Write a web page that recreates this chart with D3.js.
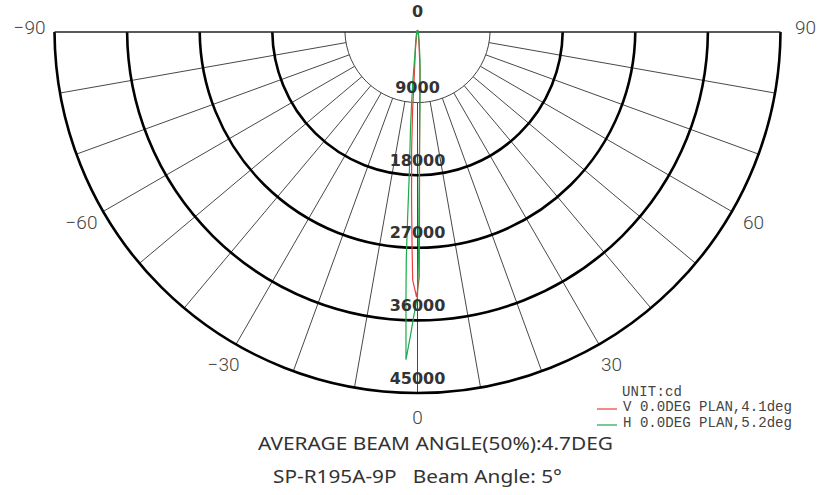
<!DOCTYPE html>
<html>
<head>
<meta charset="utf-8">
<script src="https://cdn.jsdelivr.net/npm/d3@7"></script>
<style>
	body { margin: 0; background: white; }
	svg { display: block; }
</style>
</head>
<body>
<div id="root"></div>
<script>
	//ring values (cd) and angle grid (deg)
	const ringValues = [9000, 18000, 27000, 36000, 45000];
	const spokeAngles = [-80, -70, -60, -50, -40, -30, -20, -10, 0, 10, 20, 30, 40, 50, 60, 70, 80];
	const angleLabels = [-90, -60, -30, 0, 30, 60, 90];

	//V plane (red), angle in degrees and intensity in cd
	const vAngles = [-90, -20, -10, -6, -4, -3.5, -2.8, -2, -1.4, -1.1, -0.2, 0.4, 0.6, 0.9, 1.6, 3.6, 6, 10, 20, 90];
	const vValues = [0, 150, 600, 2500, 5800, 9900, 14900, 21100, 27300, 31000, 33100, 30700, 23500, 16100, 9900, 5000, 1800, 700, 150, 0];

	//H plane (green)
	const hAngles = [-90, -20, -10, -6, -5.3, -4.7, -4.1, -3.3, -3.0, -2.8, -2.45, -2.2, -2.0, -1.3, -0.7, 0, 0.3, 0.5, 0.95, 2.05, 4.8, 8.5, 20, 90];
	const hValues = [0, 300, 1200, 3000, 6000, 8700, 12100, 17400, 23600, 28500, 33500, 37200, 40900, 37800, 35300, 33100, 27300, 21100, 14900, 8700, 3700, 1300, 300, 0];

	const legendNames = ["V 0.0DEG PLAN,4.1deg", "H 0.0DEG PLAN,5.2deg"];
	const legendColors = ["#f03a3a", "#1aab4a"];

	//dimensions of svg canvas
	const width = 818;
	const height = 495;
	const cx = 417.5;
	const cy = 30;
	const topY = 32;
	const R = 363;

	const svg = d3.select("#root")
	.append("svg")
	.attr("width", width)
	.attr("height", height)
	.style("background-color", "white");

	//radial scale, 0 at the centre
	const rScale = d3.scaleLinear()
	.domain([0, 45000])
	.range([0, R]);

	const rad = (deg) => deg * Math.PI / 180;
	//0 deg points down, positive angles to the right
	const px = (deg, v) => cx + rScale(v) * Math.sin(rad(deg));
	const py = (deg, v) => cy + rScale(v) * Math.cos(rad(deg));

	const grid = svg.append("g");

	//spokes from the first ring to the outer ring
	grid.selectAll("line.spoke")
	.data(spokeAngles)
	.enter()
	.append("line")
	.attr("class", "spoke")
	.attr("x1", d => px(d, ringValues[0]))
	.attr("y1", d => py(d, ringValues[0]))
	.attr("x2", d => px(d, 45000))
	.attr("y2", d => py(d, 45000))
	.attr("stroke", "#333")
	.attr("stroke-width", 0.9);

	//half rings, cut at the top line
	grid.selectAll("path.ring")
	.data(ringValues)
	.enter()
	.append("path")
	.attr("class", "ring")
	.attr("d", function(d){
		const rr = rScale(d);
		const a0 = Math.asin((topY - cy) / rr);
		const p = d3.path();
		p.arc(cx, cy, rr, a0, Math.PI - a0, false);
		return p.toString();
	})
	.attr("fill", "none")
	.attr("stroke", (d, i) => i === 0 ? "#444" : "#000")
	.attr("stroke-width", (d, i) => i === 0 ? 1 : 2.6);

	//top line
	grid.append("line")
	.attr("x1", cx - R)
	.attr("x2", cx + R)
	.attr("y1", topY)
	.attr("y2", topY)
	.attr("stroke", "#222")
	.attr("stroke-width", 1.6);

	//curves
	const radial = d3.lineRadial()
	.angle(d => Math.PI - rad(d[0]))
	.radius(d => rScale(d[1]));

	const curves = [d3.zip(vAngles, vValues), d3.zip(hAngles, hValues)];
	svg.selectAll("path.curve")
	.data(curves)
	.enter()
	.append("path")
	.attr("class", "curve")
	.attr("transform", "translate(" + cx + "," + cy + ")")
	.attr("d", d => radial(d))
	.attr("fill", "none")
	.attr("stroke", (d, i) => legendColors[i])
	.attr("stroke-width", 1.2);

	//intensity labels along the 0 axis
	svg.selectAll("text.ringLabel")
	.data([0].concat(ringValues))
	.enter()
	.append("text")
	.attr("class", "ringLabel")
	.attr("x", cx)
	.attr("y", d => d === 0 ? 17 : cy + rScale(d) - 9.5)
	.attr("text-anchor", "middle")
	.style("font-family", "DejaVu Sans")
	.style("font-weight", "bold")
	.style("font-size", "16px")
	.attr("fill", "#333")
	.text(d => d);

	//angle labels
	svg.selectAll("text.angleLabel")
	.data(angleLabels)
	.enter()
	.append("text")
	.attr("class", "angleLabel")
	.attr("x", d => cx + 388 * Math.sin(rad(d)))
	.attr("y", d => cy - 3 + 390 * Math.cos(rad(d)))
	.attr("text-anchor", "middle")
	.attr("dominant-baseline", "central")
	.style("font-family", "Roboto")
	.style("font-weight", "300")
	.style("font-size", "19px")
	.attr("fill", "#444")
	.text(d => d === 0 ? "0" : String(d).replace("-", "\u2212"));

	//legend
	const legend = svg.append("g")
	.style("font-family", "Liberation Mono")
	.style("font-size", "14px")
	.attr("fill", "#444");

	legend.append("text")
	.attr("x", 622)
	.attr("y", 396)
	.attr("textLength", 60)
	.text("UNIT:cd");

	legendNames.forEach(function(name, i){
		legend.append("line")
		.attr("x1", 597)
		.attr("x2", 617)
		.attr("y1", 409 + i * 16)
		.attr("y2", 409 + i * 16)
		.attr("stroke", legendColors[i])
		.attr("stroke-width", 1.2);

		legend.append("text")
		.attr("x", 623)
		.attr("y", 411 + i * 16)
		.attr("textLength", 169)
		.attr("lengthAdjust", "spacingAndGlyphs")
		.text(name);
	});

	//titles
	svg.append("text")
	.attr("x", 258)
	.attr("y", 450)
	.attr("textLength", 355)
	.attr("lengthAdjust", "spacingAndGlyphs")
	.style("font-family", "Noto Sans")
	.style("font-size", "18px")
	.attr("fill", "#333")
	.text("AVERAGE BEAM ANGLE(50%):4.7DEG");

	svg.append("text")
	.attr("x", 273)
	.attr("y", 483)
	.attr("textLength", 289)
	.attr("lengthAdjust", "spacingAndGlyphs")
	.style("font-family", "Noto Sans")
	.style("font-size", "18px")
	.style("white-space", "pre")
	.attr("fill", "#333")
	.text("SP-R195A-9P   Beam Angle: 5\u00b0");
</script>
</body>
</html>
